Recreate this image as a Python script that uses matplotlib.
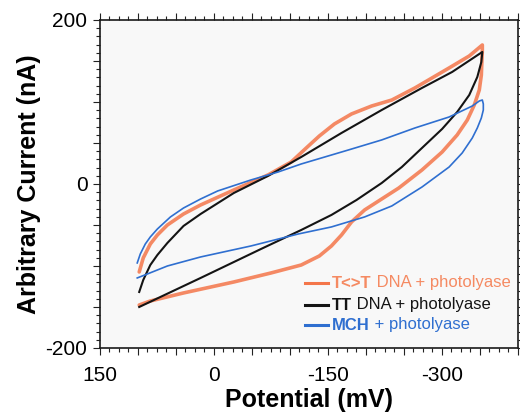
import matplotlib
matplotlib.use("Agg")
import matplotlib.pyplot as plt
from matplotlib.ticker import MultipleLocator, FuncFormatter

plt.rcParams['font.family'] = ['Liberation Sans', 'DejaVu Sans']
plt.rcParams['axes.unicode_minus'] = False

# ---- data (potential in mV, current in nA) ----
# T<>T DNA + photolyase (orange)
tt_dimer_x = [98.4, 83.8, 40.1, -26.1, -75.1, -114.8, -138.6, -154.5, -167.8, -181.0,
              -198.2, -220.7, -243.2, -273.7, -300.2, -320.0, -333.3, -342.5, -349.1,
              -351.8, -353.1, -353.1,
              -335.9, -309.4, -264.4, -234.0, -207.5, -181.0, -158.5, -138.6, -121.4,
              -101.6, -71.1, -26.1, 17.6, 40.1, 61.3, 74.5, 83.8, 93.1, 98.4]
tt_dimer_y = [-147.6, -142.7, -132.9, -119.5, -108.5, -98.8, -87.8, -75.6, -62.2, -46.3,
              -31.7, -18.3, -4.9, 17.1, 39.0, 59.8, 78.0, 96.3, 114.6,
              132.9, 163.4, 169.5,
              156.1, 141.5, 117.1, 102.4, 95.1, 85.4, 73.2, 58.5, 43.9,
              26.8, 11.0, -7.3, -25.6, -36.6, -50.0, -62.2, -73.2, -90.2, -107.3]

# TT DNA + photolyase (black)
tt_x = [98.4, 17.6, -61.8, -114.8, -154.5, -187.6, -220.7, -247.2, -273.7, -300.2,
        -320.0, -335.9, -346.5, -351.8, -353.1,
        -313.4, -273.7, -220.7, -167.8, -114.8, -71.1, -26.1, 17.6, 40.1, 61.3,
        74.5, 83.8, 93.1, 98.4]
tt_y = [-150.0, -114.6, -79.3, -56.1, -37.8, -19.5, 1.2, 20.7, 43.9, 67.1,
        87.8, 108.5, 130.5, 148.8, 161.0,
        136.6, 117.1, 90.2, 62.2, 32.9, 9.8, -11.0, -36.6, -51.2, -71.9,
        -86.6, -98.8, -117.1, -131.7]

# MCH + photolyase (blue)
mch_x = [101.0, 97.0, 90.4, 83.8, 74.5, 57.3, 40.1, 17.6, -4.9, -48.6, -84.3, -114.8,
         -177.0, -220.7, -264.4, -309.4, -339.9, -349.1, -353.1, -354.4, -354.4,
         -351.8, -346.5, -339.9, -326.6, -309.4, -273.7, -234.0, -198.2, -154.5,
         -110.8, -48.6, 17.6, 61.3, 87.8, 101.0]
mch_y = [-96.3, -85.4, -73.2, -64.6, -54.9, -40.2, -29.3, -18.3, -8.5, 4.9, 14.6, 24.4,
         41.5, 53.7, 68.3, 81.7, 95.1, 101.2, 102.4, 97.6, 90.2,
         80.5, 68.3, 56.1, 37.8, 20.7, -3.7, -26.8, -40.2, -52.4,
         -61.0, -75.6, -89.0, -100.0, -109.8, -114.6]

legend_bold = ["T<>T", "TT", "MCH"]
legend_rest = [" DNA + photolyase", " DNA + photolyase", " + photolyase"]

x_labels = [150, 0, -150, -300]
y_labels = [200, 0, -200]

c_orange = '#f4764a'
c_orange_txt = '#f58a62'
c_black = '#141414'
c_blue = '#2f6fd0'

fig = plt.figure(figsize=(5.2, 4.16), dpi=100)
ax = fig.add_axes([0.1923, 0.1635, 0.8038, 0.7885])
ax.set_facecolor('#f8f8f8')

ax.plot(tt_dimer_x, tt_dimer_y, color=c_orange, lw=2.6, alpha=0.85,
        solid_capstyle='round', solid_joinstyle='round')
ax.plot(tt_x, tt_y, color=c_black, lw=1.5, solid_joinstyle='round')
ax.plot(mch_x, mch_y, color=c_blue, lw=1.2, solid_joinstyle='round')

ax.set_xlim(150, -400)
ax.set_ylim(-200, 200)

ax.xaxis.set_major_locator(MultipleLocator(50))
ax.xaxis.set_minor_locator(MultipleLocator(12.5))
ax.yaxis.set_major_locator(MultipleLocator(50))
ax.yaxis.set_minor_locator(MultipleLocator(10))
ax.xaxis.set_major_formatter(FuncFormatter(lambda v, p: f"{int(round(v))}" if int(round(v)) in x_labels else ""))
ax.yaxis.set_major_formatter(FuncFormatter(lambda v, p: f"{int(round(v))}" if int(round(v)) in y_labels else ""))

ax.tick_params(axis='both', which='both', direction='out', top=True, right=True, width=0.8, color='#222222')
ax.tick_params(axis='both', which='major', length=5)
ax.tick_params(axis='both', which='minor', length=3)
ax.tick_params(axis='x', which='major', labelsize=15, pad=8)
ax.tick_params(axis='y', which='major', labelsize=15, pad=4)
for s in ax.spines.values():
    s.set_linewidth(1.2)
    s.set_color('#1a1a1a')

ax.set_xlabel("Potential (mV)", fontsize=18, fontweight='bold', labelpad=2)
ax.set_ylabel("Arbitrary Current (nA)", fontsize=18, fontweight='bold', labelpad=3)

# manual legend
colors_line = [c_orange, c_black, c_blue]
colors_txt = [c_orange_txt, c_black, c_blue]
ys = [1 - 283 / 416, 1 - 305 / 416, 1 - 325 / 416]
for b, r, cl, ct, yy in zip(legend_bold, legend_rest, colors_line, colors_txt, ys):
    fig.add_artist(plt.Line2D([305 / 520, 328 / 520], [yy, yy], color=cl, lw=2.2,
                              transform=fig.transFigure))
    t = fig.text(332 / 520, yy, b, color=ct, fontsize=12, fontweight='bold',
                 va='center', ha='left')
    ax.annotate(r, xy=(1, 0.5), xycoords=t, va='center', ha='left',
                color=ct, fontsize=12, annotation_clip=False)

fig.savefig("out.png", dpi=100)
